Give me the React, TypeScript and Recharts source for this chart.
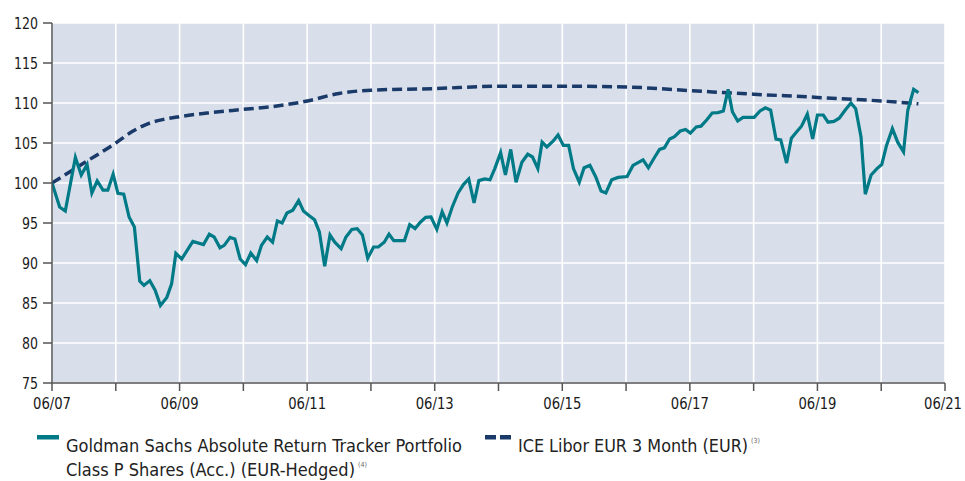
import React from 'react';
import { LineChart, Line, XAxis, YAxis, CartesianGrid, Legend } from 'recharts';

// months since 06/2007 (x) and indexed value (y)
const fundMonths = [
  0, 1.44, 2.5, 4.4, 5.5, 6.6, 7.5, 8.5, 9.6, 10.5, 11.5, 12.4, 13.5, 14.5, 15.5, 16.5, 17.3, 18.4, 19.4, 20.4,
  21.6, 22.5, 23.3, 24.4, 26.5, 28.5, 29.6, 30.5, 31.6, 32.4, 33.5, 34.4, 35.4, 36.4, 37.4, 38.5, 39.4, 40.5, 41.5,
  42.4, 43.3, 44.2, 45.3, 46.4, 47.3, 48.4, 49.4, 50.3, 51.3, 52.3, 53.2, 54.4, 55.3, 56.4, 57.4, 58.4, 59.4, 60.5,
  61.4, 62.5, 63.4, 64.3, 66.3, 67.3, 68.3, 69.3, 70.3, 71.3, 72.4, 73.4, 74.3, 75.3, 76.4, 77.4, 78.4, 79.4, 80.3,
  81.4, 82.4, 83.3, 84.4, 85.3, 86.3, 87.3, 88.4, 89.5, 90.4, 91.4, 92.2, 93.1, 94.3, 95.2, 96.2, 97.2, 98.1, 99.2,
  100.1, 101.2, 102.3, 103.3, 104.2, 105.3, 106.5, 108.2, 109.3, 111.2, 112.2, 113.4, 114.3, 115.2, 116.2, 117.1,
  118.2, 119.2, 120.1, 121.2, 122.1, 123.2, 124.2, 125.3, 126.3, 127.2, 128.0, 129.0, 130.0, 132.1, 133.2, 134.2,
  135.2, 136.2, 137.1, 138.2, 139.1, 140.1, 141.0, 142.1, 143.1, 144.0, 145.1, 146.0, 147.1, 148.1, 149.2, 150.3,
  151.2, 152.2, 153.0, 154.1, 155.2, 156.1, 157.0, 158.1, 159.1, 160.2, 161.0, 162.1, 163.0,
];
const fundValues = [
  100, 97.0, 96.5, 103.2, 101.0, 102.3, 98.75, 100.25, 99.1, 99.1, 101.1, 98.7, 98.6, 95.75, 94.5, 87.75, 87.2, 87.8, 86.6, 84.7,
  85.7, 87.4, 91.2, 90.5, 92.7, 92.3, 93.6, 93.25, 91.9, 92.2, 93.2, 93.0, 90.5, 89.8, 91.25, 90.3, 92.2, 93.25, 92.6,
  95.25, 95.0, 96.25, 96.6, 97.8, 96.5, 95.9, 95.4, 93.9, 89.6, 93.5, 92.6, 91.8, 93.25, 94.2, 94.3, 93.5, 90.6, 92.0,
  92.0, 92.6, 93.6, 92.8, 92.8, 94.8, 94.3, 95.1, 95.7, 95.75, 94.2, 96.4, 95.0, 97.0, 98.75, 99.8, 100.5, 97.5, 100.3,
  100.5, 100.4, 101.8, 103.8, 101.0, 104.2, 100.1, 102.6, 103.6, 103.25, 101.8, 105.1, 104.5, 105.25, 106.0, 104.7, 104.7, 101.8, 100.1,
  101.9, 102.2, 100.75, 99.0, 98.75, 100.4, 100.7, 100.8, 102.2, 102.9, 101.9, 103.25, 104.2, 104.4, 105.5, 105.8,
  106.5, 106.7, 106.25, 107.0, 107.1, 107.9, 108.75, 108.8, 109.0, 111.7, 108.9, 107.75, 108.2, 108.2, 109.0, 109.4,
  109.1, 105.5, 105.4, 102.5, 105.6, 106.4, 107.1, 108.6, 105.5, 108.5, 108.5, 107.6, 107.7, 108.1, 109.1, 110.0,
  109.3, 105.75, 98.6, 101.0, 101.8, 102.3, 104.7, 106.8, 105.1, 103.9, 109.1, 111.7, 111.3,
];

const liborMonths = [0, 6, 12, 15, 18, 21, 24, 30, 36, 42, 48, 54, 60, 72, 84, 96, 108, 120, 132, 144, 156, 163];
const liborValues = [100, 102.5, 105.0, 106.4, 107.4, 107.95, 108.3, 108.8, 109.2, 109.6, 110.25, 111.2, 111.6, 111.8, 112.1, 112.1, 112.0, 111.55, 111.1, 110.7, 110.25, 109.9];

const xTicks = [0, 12, 24, 36, 48, 60, 72, 84, 96, 108, 120, 132, 144, 156, 168];
const xTickLabels = ['06/07', '', '06/09', '', '06/11', '', '06/13', '', '06/15', '', '06/17', '', '06/19', '', '06/21'];
const yTicks = [75, 80, 85, 90, 95, 100, 105, 110, 115, 120];

const fundName = 'Goldman Sachs Absolute Return Tracker Portfolio';
const fundName2 = 'Class P Shares (Acc.) (EUR-Hedged)';
const liborName = 'ICE Libor EUR 3 Month (EUR)';

const fundData = fundMonths.map((m, i) => ({ m, v: fundValues[i] }));
const liborData = liborMonths.map((m, i) => ({ m, v: liborValues[i] }));

const TEAL = '#007a87';
const NAVY = '#1a3a6a';
const FONT = '"DejaVu Sans Condensed", "Liberation Sans Narrow", Arial, sans-serif';

const XTick = (props: any) => {
  const { x, y, payload } = props;
  const idx = xTicks.indexOf(payload.value);
  const label = xTickLabels[idx];
  if (!label) return null;
  const last = idx === xTicks.length - 1;
  return (
    <text x={last ? x + 17 : x} y={y + 13} textAnchor={last ? 'end' : 'middle'} fontFamily={FONT} fontSize={15.5} fill="#1a1a1a"
      textLength={38} lengthAdjust="spacingAndGlyphs">{label}</text>
  );
};

const YTick = (props: any) => {
  const { x, y, payload } = props;
  const label = String(payload.value);
  return (
    <text x={x} y={y + 6} textAnchor="end" fontFamily={FONT} fontSize={16.5} fill="#1a1a1a"
      textLength={label.length * 8} lengthAdjust="spacingAndGlyphs">{label}</text>
  );
};

const LegendContent = () => (
  <svg width={965} height={56} style={{ display: 'block' }}>
    <rect x={37} y={10} width={22} height={4.5} fill={TEAL} />
    <text x={66} y={27} fontFamily={FONT} fontSize={18} fill="#222" textLength={396} lengthAdjust="spacingAndGlyphs">{fundName}</text>
    <text x={66} y={51} fontFamily={FONT} fontSize={18} fill="#222" textLength={289} lengthAdjust="spacingAndGlyphs">{fundName2}</text>
    <text x={358} y={42} fontFamily={FONT} fontSize={7} fill="#666">(4)</text>
    <rect x={485} y={10} width={11} height={4.5} fill={NAVY} />
    <rect x={500} y={10} width={11} height={4.5} fill={NAVY} />
    <text x={518} y={27} fontFamily={FONT} fontSize={18} fill="#222" textLength={230} lengthAdjust="spacingAndGlyphs">{liborName}</text>
    <text x={751} y={18} fontFamily={FONT} fontSize={7} fill="#666">(3)</text>
  </svg>
);

export default function App() {
  return (
    <div style={{ position: 'absolute', left: 0, top: 0, width: 965, height: 481, background: '#fff' }}>
      <LineChart width={965} height={481} margin={{ top: 23, right: 20, bottom: 0, left: 0 }}>
        <CartesianGrid fill="#d9dfea" stroke="#ffffff" strokeWidth={1.6} />
        <XAxis
          type="number"
          dataKey="m"
          domain={[0, 168]}
          ticks={xTicks}
          height={42}
          tickSize={8}
          tickMargin={5}
          axisLine={{ stroke: '#555', strokeWidth: 1.5 }}
          tickLine={{ stroke: '#555', strokeWidth: 1.5 }}
          tick={<XTick />}
          interval={0}
          allowDataOverflow
        />
        <YAxis
          type="number"
          domain={[75, 120]}
          ticks={yTicks}
          width={52}
          tickSize={9}
          tickMargin={5}
          axisLine={{ stroke: '#555', strokeWidth: 1.5 }}
          tickLine={{ stroke: '#555', strokeWidth: 1.5 }}
          tick={<YTick />}
          interval={0}
          allowDataOverflow
        />
        <Legend
          verticalAlign="bottom"
          content={() => <LegendContent />}
          wrapperStyle={{ left: 0, bottom: 0, width: 965, height: 56 }}
        />
        <Line
          data={liborData}
          dataKey="v"
          type="monotone"
          stroke={NAVY}
          strokeWidth={3.5}
          strokeDasharray="10 5"
          dot={false}
          activeDot={false}
          isAnimationActive={false}
          name={liborName}
        />
        <Line
          data={fundData}
          dataKey="v"
          type="linear"
          stroke={TEAL}
          strokeWidth={3.2}
          strokeLinejoin="miter"
          dot={false}
          activeDot={false}
          isAnimationActive={false}
          name={fundName}
        />
      </LineChart>
    </div>
  );
}
